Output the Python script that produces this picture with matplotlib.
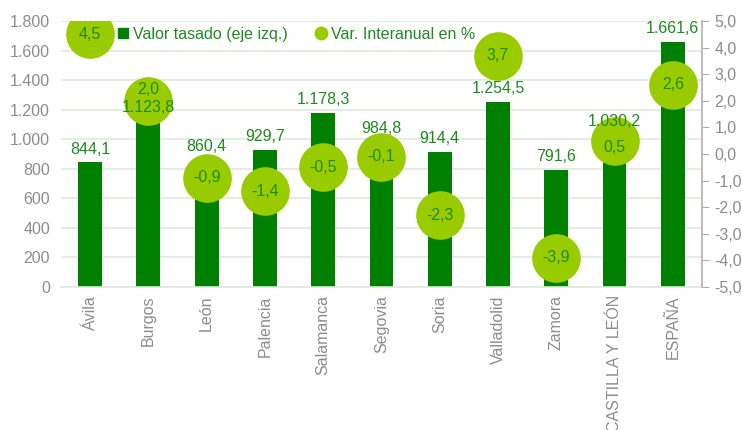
import matplotlib
matplotlib.use('Agg')
import matplotlib.pyplot as plt
from matplotlib.ticker import FuncFormatter, MultipleLocator
from matplotlib.lines import Line2D

plt.rcParams['font.family'] = ['Liberation Sans', 'DejaVu Sans']

# --- data ---
provinces = ['Ávila', 'Burgos', 'León', 'Palencia', 'Salamanca', 'Segovia',
             'Soria', 'Valladolid', 'Zamora', 'CASTILLA Y LEÓN', 'ESPAÑA']
valor = [844.1, 1123.8, 860.4, 929.7, 1178.3, 984.8, 914.4, 1254.5, 791.6,
         1030.2, 1661.6]
var_pct = [4.5, 2.0, -0.9, -1.4, -0.5, -0.1, -2.3, 3.7, -3.9, 0.5, 2.6]
# label nudges (points) where the source chart moved a label off-centre
var_label_dy = [0, 8, 0, 0, 0, 0, 0, 0, 0, -5, 0]

BAR_GREEN = '#008000'
DOT_GREEN = '#99cc00'
TXT_GREEN = '#1f8a1f'
GRAY = '#8c8c8c'
GRID = '#dcebdc'


def es_num(v, dec):
    s = f'{v:,.{dec}f}'
    return s.replace(',', 'X').replace('.', ',').replace('X', '.')


fig = plt.figure(figsize=(7.42, 4.30), dpi=100)
ax = fig.add_axes([0.0822, 0.3326, 0.8638, 0.6184])
ax2 = ax.twinx()

x = list(range(len(provinces)))
ax.bar(x, valor, width=0.41, color=BAR_GREEN, zorder=2)
ax.set_xlim(-0.5, len(provinces) - 0.5)
ax.set_ylim(0, 1800)
ax.yaxis.set_major_locator(MultipleLocator(200))
ax.yaxis.set_major_formatter(FuncFormatter(lambda v, p: es_num(v, 0)))
ax.grid(axis='y', color=GRID, linewidth=1.2, zorder=0)
ax.set_axisbelow(True)
for s in ['top', 'right', 'left']:
    ax.spines[s].set_visible(False)
ax.spines['bottom'].set_color(GRID)
ax.spines['bottom'].set_linewidth(1.2)
ax.tick_params(axis='y', length=0, labelsize=11.5, labelcolor=GRAY, pad=8)
ax.tick_params(axis='x', length=0, labelsize=11.5, labelcolor=GRAY, pad=6)
ax.set_xticks(x)
ax.set_xticklabels(provinces, rotation=90)

ax2.set_ylim(-5, 5)
ax2.yaxis.set_major_locator(MultipleLocator(1))
ax2.yaxis.set_major_formatter(FuncFormatter(lambda v, p: es_num(v, 1)))
for s in ['top', 'left', 'bottom']:
    ax2.spines[s].set_visible(False)
ax2.spines['right'].set_color('#b0b0b0')
ax2.spines['right'].set_linewidth(1.2)
ax2.tick_params(axis='y', length=5, color='#b0b0b0', labelsize=11.5,
                labelcolor=GRAY, pad=4)

ax2.plot(x, var_pct, 'o', markersize=35, color=DOT_GREEN,
         markeredgewidth=0, zorder=3)

for xi, v, dy in zip(x, var_pct, var_label_dy):
    ax2.annotate(es_num(v, 1), (xi, v), xytext=(0, dy),
                 textcoords='offset points', ha='center', va='center',
                 fontsize=11.5, color=TXT_GREEN, zorder=5)
for xi, v in zip(x, valor):
    y2 = -5 + v / 1800 * 10
    ax2.annotate(es_num(v, 1), (xi, y2), xytext=(0, 4),
                 textcoords='offset points', ha='center', va='bottom',
                 fontsize=11.5, color=TXT_GREEN, zorder=5)

handles = [
    Line2D([], [], marker='s', linestyle='none', color=BAR_GREEN,
           markersize=7),
    Line2D([], [], marker='o', linestyle='none', color=DOT_GREEN,
           markersize=9),
]
leg = ax2.legend(handles, ['Valor tasado (eje izq.)', 'Var. Interanual en %'],
                 loc='upper left', bbox_to_anchor=(0.075, 1.015), ncol=2,
                 frameon=False, fontsize=11.5, handlelength=0.6,
                 handletextpad=0.3, columnspacing=1.8, borderaxespad=0.2)
for t in leg.get_texts():
    t.set_color(TXT_GREEN)

fig.savefig('out.png', dpi=100)
